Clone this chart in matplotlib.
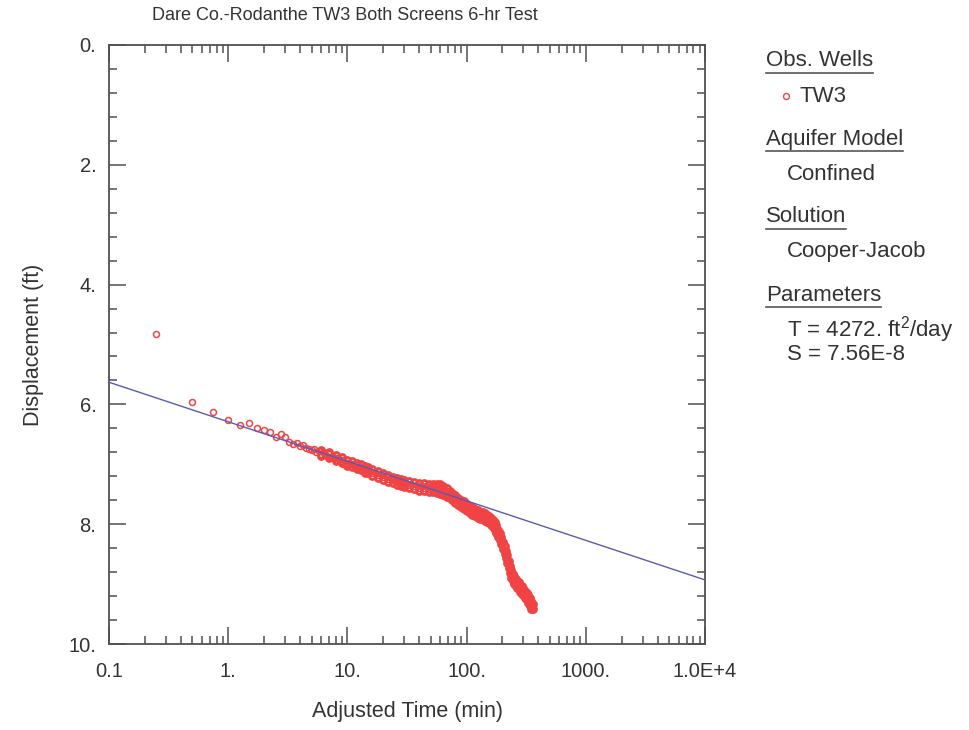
import matplotlib
matplotlib.use('Agg')
import matplotlib.pyplot as plt
from matplotlib.ticker import LogLocator, MultipleLocator, FixedLocator, FixedFormatter, NullFormatter
from matplotlib.lines import Line2D

plt.rcParams['font.family'] = ['Liberation Sans', 'DejaVu Sans']
plt.rcParams['mathtext.fontset'] = 'custom'
plt.rcParams['mathtext.rm'] = 'Liberation Sans'
plt.rcParams['mathtext.default'] = 'regular'

# observed displacement in TW3 (adjusted time in minutes, displacement in ft)
obs_time = [0.25, 0.5, 0.75, 1.0, 1.25, 1.5, 1.75, 2.0, 2.25, 2.5, 2.75, 3.0, 3.25, 3.5,
            3.75, 4.0, 4.25, 4.5, 4.75,
            5.0, 5.25, 5.5, 5.75, 6.0, 6.25, 6.5, 6.75, 7.0, 7.25, 7.5, 7.75, 8.0, 8.25,
            8.5, 8.75, 9.0, 9.25, 9.5, 9.75, 10.0,
            10.5, 11, 11.5, 12, 12.5, 13, 14, 15, 16, 17, 18, 19, 20, 21, 22, 23, 24, 25,
            26, 27, 28, 30, 32, 34, 36, 38, 40, 42, 44, 46, 48, 50, 52, 54, 56, 58, 60,
            62, 64, 66, 68, 70, 72, 74, 76, 78, 80, 82, 84, 86, 88, 90, 93, 96, 99, 102,
            105, 108, 111, 114, 117, 120, 124, 128, 132, 136, 140, 144, 148, 152, 156,
            160, 164, 168, 172, 176, 180, 184, 188, 192, 196, 200, 204, 208, 212, 216,
            220, 224, 228, 232, 236, 240, 245, 250, 255, 260, 265, 270, 275, 280, 285,
            290, 295, 300, 305, 310, 315, 320, 325, 330, 335, 340, 345, 350, 355, 360]
obs_disp = [4.83, 5.96, 6.13, 6.26, 6.34, 6.31, 6.39, 6.43, 6.46, 6.55, 6.50, 6.55, 6.62, 6.66,
            6.64, 6.70, 6.68, 6.72, 6.75,
            6.76, 6.74, 6.79, 6.78, 6.82, 6.80, 6.84, 6.86, 6.83, 6.88, 6.87, 6.90, 6.89, 6.92,
            6.91, 6.94, 6.96, 6.93, 6.97, 6.99, 6.98,
            7.00, 6.99, 7.04, 7.02, 7.06, 7.05, 7.10, 7.08, 7.14, 7.13, 7.18, 7.17, 7.22, 7.20,
            7.25, 7.23, 7.27, 7.26, 7.30, 7.28, 7.32, 7.31, 7.35, 7.33, 7.37, 7.35, 7.39, 7.36,
            7.40, 7.37, 7.41, 7.38, 7.41, 7.38, 7.42, 7.39, 7.42, 7.41, 7.45, 7.43, 7.47, 7.46,
            7.51, 7.50, 7.55, 7.53, 7.58, 7.57, 7.62, 7.60, 7.65, 7.64, 7.69, 7.67, 7.72, 7.71,
            7.75, 7.74, 7.78, 7.77, 7.80, 7.79, 7.83, 7.82, 7.86, 7.85, 7.88, 7.87, 7.91, 7.90,
            7.94, 7.95, 7.97, 8.00, 8.03, 8.07, 8.10, 8.15, 8.18, 8.23, 8.27, 8.33, 8.37, 8.43,
            8.47, 8.52, 8.58, 8.64, 8.70, 8.76, 8.81, 8.86, 8.90, 8.93, 8.95, 8.98, 9.00, 9.02,
            9.04, 9.06, 9.08, 9.10, 9.12, 9.13, 9.15, 9.17, 9.19, 9.21, 9.23, 9.25, 9.27, 9.30,
            9.32, 9.35, 9.37, 9.39]

# scatter in the dense part of the record: readings along the upper and lower edge of the band
edge_time = [6, 7, 8, 9, 10, 11, 12, 13, 14, 15, 16, 18, 20, 22, 24, 26, 28, 30, 33, 36, 40,
             44, 48, 52, 56, 60, 64, 68, 72, 76, 80, 85, 90, 95, 100, 106, 112, 118, 124,
             130, 136, 142, 148, 154, 160, 166, 172, 178, 184, 190, 196, 202, 208, 214, 220,
             226, 232, 238, 244, 250, 258, 266, 274, 282, 290, 300, 310, 320, 330, 340, 350,
             358]
edge_upper = [6.76, 6.80, 6.85, 6.88, 6.93, 6.95, 6.98, 7.00, 7.03, 7.04, 7.08, 7.12, 7.15,
              7.18, 7.21, 7.23, 7.25, 7.26, 7.28, 7.30, 7.31, 7.32, 7.33, 7.33, 7.33, 7.33,
              7.36, 7.40, 7.45, 7.48, 7.52, 7.56, 7.59, 7.62, 7.66, 7.69, 7.72, 7.74, 7.77,
              7.79, 7.80, 7.82, 7.84, 7.86, 7.89, 7.93, 7.97, 8.02, 8.09, 8.14, 8.21, 8.29,
              8.37, 8.44, 8.52, 8.61, 8.70, 8.77, 8.83, 8.87, 8.91, 8.94, 8.97, 9.01, 9.04,
              9.07, 9.11, 9.15, 9.19, 9.24, 9.29, 9.33]
edge_lower = [6.86, 6.89, 6.94, 6.98, 7.03, 7.05, 7.08, 7.10, 7.14, 7.15, 7.19, 7.23, 7.26,
              7.29, 7.32, 7.35, 7.37, 7.38, 7.40, 7.42, 7.44, 7.45, 7.46, 7.47, 7.48, 7.49,
              7.51, 7.54, 7.57, 7.60, 7.64, 7.68, 7.71, 7.74, 7.78, 7.81, 7.84, 7.86, 7.89,
              7.91, 7.92, 7.94, 7.96, 7.98, 8.01, 8.05, 8.09, 8.14, 8.21, 8.26, 8.33, 8.41,
              8.49, 8.56, 8.64, 8.73, 8.82, 8.89, 8.95, 8.99, 9.03, 9.06, 9.09, 9.13, 9.16,
              9.19, 9.23, 9.27, 9.31, 9.36, 9.41, 9.42]

# Cooper-Jacob straight line fit
fit_time = [0.1, 1.0e4]
fit_disp = [5.63, 8.93]

x_ticks = [0.1, 1, 10, 100, 1000, 1e4]
x_labels = ['0.1', '1.', '10.', '100.', '1000.', '1.0E+4']
y_ticks = [0, 2, 4, 6, 8, 10]
y_labels = ['0.', '2.', '4.', '6.', '8.', '10.']

legend_blocks = [
    ('Obs. Wells', ['TW3']),
    ('Aquifer Model', ['Confined']),
    ('Solution', ['Cooper-Jacob']),
    ('Parameters', ['T = 4272. ft$^{2}$/day', 'S = 7.56E-8']),
]

W, H = 969, 730
fig = plt.figure(figsize=(W / 100, H / 100), dpi=100)
ax = fig.add_axes([109 / W, 1 - 644 / H, 596 / W, 599 / H])

red = '#f04444'
mk = dict(linestyle='none', marker='o', markersize=4.3, markerfacecolor='none',
          markeredgecolor=red, markeredgewidth=1.1, zorder=3)
ax.plot(fit_time, fit_disp, color='#5a5ab8', lw=1.0, zorder=4)
ax.plot(obs_time, obs_disp, **mk)
mk_dense = dict(mk, markeredgewidth=2.0)
ax.plot(edge_time, edge_upper, **mk_dense)
ax.plot(edge_time, edge_lower, **mk_dense)

ax.set_xscale('log')
ax.set_xlim(0.1, 1e4)
ax.set_ylim(10, 0)
ax.xaxis.set_major_locator(FixedLocator(x_ticks))
ax.xaxis.set_major_formatter(FixedFormatter(x_labels))
ax.xaxis.set_minor_locator(LogLocator(base=10, subs=range(2, 10)))
ax.xaxis.set_minor_formatter(NullFormatter())
ax.yaxis.set_major_locator(FixedLocator(y_ticks))
ax.yaxis.set_major_formatter(FixedFormatter(y_labels))
ax.yaxis.set_minor_locator(MultipleLocator(0.4))

axc = '#505050'
for s in ax.spines.values():
    s.set_color(axc)
    s.set_linewidth(1.3)
ax.tick_params(which='both', direction='in', top=True, right=True, color=axc, width=1.1,
               labelcolor='#333333')
ax.tick_params(which='major', length=12, labelsize=14.5)
ax.tick_params(axis='x', which='major', pad=13)
ax.tick_params(axis='y', which='major', pad=9)
ax.tick_params(which='minor', length=6)

ax.set_xlabel('Adjusted Time (min)', fontsize=15.5, color='#333333', labelpad=14)
ax.set_ylabel('Displacement (ft)', fontsize=15.5, color='#333333', labelpad=18)
fig.text(345 / W, 1 - 15 / H, 'Dare Co.-Rodanthe TW3 Both Screens 6-hr Test',
         ha='center', va='center', fontsize=13, color='#333333')

# legend panel on the right
renderer = fig.canvas.get_renderer()
y = 61
for head, items in legend_blocks:
    t = fig.text(766 / W, 1 - y / H, head, ha='left', va='center', fontsize=16,
                 color='#333333')
    bb = t.get_window_extent(renderer)
    uy = 1 - (y + 12) / H
    fig.add_artist(Line2D([766 / W, bb.x1 / W], [uy, uy], color='#555555', lw=1.2))
    y += 35
    for item in items:
        if head == 'Obs. Wells':
            fig.add_artist(Line2D([786 / W], [1 - y / H], marker='o', markersize=4.3,
                                  markerfacecolor='none', markeredgecolor=red,
                                  markeredgewidth=1.0, linestyle='none'))
            fig.text(799 / W, 1 - y / H, item, ha='left', va='center', fontsize=16,
                     color='#333333')
        else:
            fig.text(787 / W, 1 - y / H, item, ha='left', va='center', fontsize=16,
                     color='#333333')
        y += 25 if head == 'Parameters' else 43

fig.savefig('out.png', dpi=100)
